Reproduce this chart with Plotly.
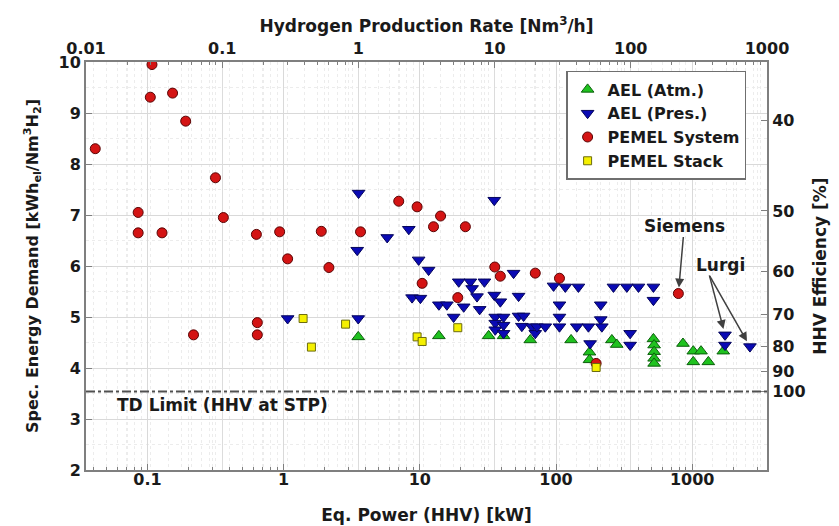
import numpy as np
import plotly.graph_objects as go

HHV = 3.54  # kWh per Nm3 H2 (HHV at STP)

# ---- data (Eq. power in kW, specific energy demand in kWh_el/Nm3) ----
ael_atm_kw = [3.53, 13.8, 32.0, 41.2, 64.7, 129, 176, 176, 257, 279, 519, 525, 525, 525, 525,
              855, 1018, 1160, 1018, 1313, 1690]
ael_atm_sed = [4.61, 4.63, 4.63, 4.63, 4.55, 4.55, 4.31, 4.16, 4.55, 4.46, 4.57, 4.45, 4.32, 4.19, 4.09,
               4.48, 4.33, 4.33, 4.12, 4.12, 4.33]

ael_pres_kw = [1.07, 3.53, 3.55, 3.47, 5.76, 8.3, 8.77, 9.8, 10.1, 11.6, 13.8, 15.8, 17.7, 19.3, 21.0,
               23.5, 24.2, 26.3, 27.5, 29.8, 35.2, 35.2, 35.8, 35.8, 35.8, 39.0, 41.2, 41.2, 41.2,
               48.8, 53.1, 53.1, 57.8, 56.1, 66.6, 70.4, 72.4, 83.4, 95.9, 106, 106, 106, 117, 142,
               146, 173, 178, 213, 213, 217, 264, 331, 350, 350, 403, 519, 519, 1740, 1740, 2653]
ael_pres_sed = [4.97, 4.97, 7.43, 6.31, 6.56, 6.72, 5.38, 6.12, 5.37, 5.92, 5.24, 5.24, 5.00, 5.69, 5.20,
                5.69, 5.56, 5.40, 5.15, 5.69, 7.29, 5.43, 5.00, 4.88, 4.75, 5.30, 5.00, 4.84, 4.68,
                5.86, 5.41, 5.02, 5.02, 4.82, 4.81, 4.68, 4.81, 4.81, 5.61, 5.24, 5.00, 4.81, 5.59, 4.81,
                5.59, 4.81, 4.48, 5.24, 4.95, 4.81, 5.59, 5.59, 4.68, 4.45, 5.59, 5.59, 5.33, 4.65, 4.45, 4.42]

pem_sys_kw = [0.0414, 0.0855, 0.0855, 0.105, 0.108, 0.128, 0.153, 0.191, 0.218, 0.316, 0.361, 0.631,
              0.641, 0.641, 0.935, 1.07, 1.89, 2.15, 3.67, 7.0, 9.55, 10.4, 12.6, 14.2, 19.0, 21.6,
              35.5, 39.0, 70.4, 106, 197, 791]
pem_sys_sed = [8.30, 7.05, 6.65, 9.31, 9.95, 6.65, 9.39, 8.84, 4.65, 7.73, 6.95, 6.62,
               4.89, 4.65, 6.67, 6.14, 6.68, 5.97, 6.67, 7.27, 7.16, 5.66, 6.77, 6.98, 5.38, 6.77,
               5.98, 5.80, 5.86, 5.76, 4.09, 5.46]

pem_stack_kw = [1.39, 1.60, 2.85, 9.55, 10.4, 19.0, 197]
pem_stack_sed = [4.97, 4.41, 4.86, 4.61, 4.52, 4.79, 4.01]

siemens_idx = 31            # index in PEMEL System arrays
lurgi_idx = [57, 59]        # indices in AEL (Pres.) arrays

bottom_ticks = [0.1, 1, 10, 100, 1000]
top_ticks = [0.01, 0.1, 1, 10, 100, 1000]
y_ticks = [2, 3, 4, 5, 6, 7, 8, 9, 10]
eff_ticks = [40, 50, 60, 70, 80, 90, 100]

FONT = "DejaVu Sans"
TXT = "#1a1a1a"
AX = "#7f7f7f"

minor_bottom = [k * 10.0 ** d for d in range(-2, 4) for k in range(2, 10)]
minor_top = [k * 10.0 ** d for d in range(-2, 3) for k in range(2, 10)]

fig = go.Figure()

def add(name, x, y, symbol, color, edge, size):
    fig.add_trace(go.Scatter(x=x, y=y, mode="markers", name=name,
                             marker=dict(symbol=symbol, color=color, size=size,
                                         line=dict(color=edge, width=1))))

add("AEL (Atm.)", ael_atm_kw, ael_atm_sed, "triangle-up", "#1fc21f", "#0b5e0b", 11)
add("AEL (Pres.)", ael_pres_kw, ael_pres_sed, "triangle-down", "#0a0ab4", "#05055a", 11)
add("PEMEL System", pem_sys_kw, pem_sys_sed, "circle", "#d41414", "#5a0505", 10)
add("PEMEL Stack", pem_stack_kw, pem_stack_sed, "square", "#f5f000", "#6b6b10", 8)

# invisible helper trace so the secondary axes are drawn
fig.add_trace(go.Scatter(x=[], y=[], xaxis="x2", yaxis="y2", showlegend=False, hoverinfo="skip"))

xr = [np.log10(0.01 * HHV), np.log10(1000 * HHV)]

fig.update_layout(
    width=831, height=518,
    margin=dict(l=78, r=72, t=54, b=56),
    paper_bgcolor="white", plot_bgcolor="white",
    font=dict(family=FONT, size=16, color=TXT, weight="bold"),
    showlegend=True,
    legend=dict(x=0.705, y=0.978, xanchor="left", yanchor="top",
                bgcolor="white", bordercolor="#6f6f6f", borderwidth=1.5,
                font=dict(size=16, family=FONT, color=TXT, weight="bold"),
                itemwidth=30, tracegroupgap=0),
    xaxis=dict(type="log", range=xr, tickvals=bottom_ticks, automargin=False,
               ticktext=[str(t) for t in bottom_ticks],
               ticks="inside", ticklen=6, tickcolor=AX, ticklabelstandoff=-6,
               showgrid=True, gridcolor="#d9d9d9", gridwidth=1,
               minor=dict(tickvals=minor_bottom, ticks="inside", ticklen=3, tickcolor=AX,
                          showgrid=True, gridcolor="#ececec", griddash="dot"),
               showline=True, linecolor=AX, linewidth=2, mirror=False,
               zeroline=False,
               title=dict(text="Eq. Power (HHV) [kW]", font=dict(size=17), standoff=21)),
    xaxis2=dict(type="log", range=[-2, 3], overlaying="x", side="top", anchor="y", automargin=False,
                tickvals=top_ticks, ticktext=[str(t) for t in top_ticks],
                ticks="inside", ticklen=6, tickcolor=AX,
                showgrid=True, gridcolor="#dcdcdc",
                minor=dict(tickvals=minor_top, ticks="inside", ticklen=3, tickcolor=AX,
                           showgrid=True, gridcolor="#ececec", griddash="dot"),
                showline=True, linecolor=AX, linewidth=2,
                title=dict(text="Hydrogen Production Rate [Nm<sup>3</sup>/h]", font=dict(size=17), standoff=2)),
    yaxis=dict(range=[2, 10], tickvals=y_ticks, ticks="inside", ticklen=6, tickcolor=AX, automargin=False,
               showgrid=True, gridcolor="#d9d9d9",
               minor=dict(dtick=0.5, showgrid=True, gridcolor="#ececec", griddash="dot"),
               showline=True, linecolor=AX, linewidth=2, zeroline=False,
               title=dict(text="Spec. Energy Demand [kWh<sub>el</sub>/Nm<sup>3</sup>H<sub>2</sub>]",
                          font=dict(size=16), standoff=16)),
    yaxis2=dict(range=[2, 10], overlaying="y", side="right", anchor="x2", automargin=False,
                tickvals=[HHV * 100 / e for e in eff_ticks], ticktext=[str(e) for e in eff_ticks],
                ticks="inside", ticklen=6, tickcolor=AX, showgrid=False,
                showline=True, linecolor=AX, linewidth=2, zeroline=False,
                title=dict(text="HHV Efficiency [%]", font=dict(size=17), standoff=9)),
)

# thermodynamic limit line
fig.add_shape(type="line", xref="paper", x0=0, x1=1, yref="y", y0=HHV, y1=HHV,
              line=dict(color="#505050", width=2, dash="dashdot"))
fig.add_annotation(xref="paper", x=0.043, xanchor="left", yref="y", y=HHV - 0.27,
                   text="TD Limit (HHV at STP)", showarrow=False,
                   font=dict(size=17, family=FONT, color=TXT, weight="bold"))

# Siemens
fig.add_annotation(x=np.log10(pem_sys_kw[siemens_idx]), y=pem_sys_sed[siemens_idx],
                   text="Siemens", showarrow=True, ax=6, ay=-68, arrowhead=2, arrowsize=1.2,
                   arrowwidth=1.5, arrowcolor="#404040", standoff=6,
                   font=dict(size=17, family=FONT, color=TXT, weight="bold"))
# Lurgi
fig.add_annotation(x=np.log10(ael_pres_kw[lurgi_idx[0]]), y=ael_pres_sed[lurgi_idx[0]],
                   text="Lurgi", showarrow=False, yshift=70, xshift=-4,
                   font=dict(size=17, family=FONT, color=TXT, weight="bold"))
fig.add_annotation(x=np.log10(ael_pres_kw[lurgi_idx[0]]), y=ael_pres_sed[lurgi_idx[0]],
                   text="", showarrow=True, ax=-16, ay=-61, arrowhead=2, arrowsize=1.2,
                   arrowwidth=1.5, arrowcolor="#404040", standoff=6)
fig.add_annotation(x=np.log10(ael_pres_kw[lurgi_idx[1]]), y=ael_pres_sed[lurgi_idx[1]],
                   text="", showarrow=True, ax=-41, ay=-72, arrowhead=2, arrowsize=1.2,
                   arrowwidth=1.5, arrowcolor="#404040", standoff=6)

fig.write_html("out.html")
